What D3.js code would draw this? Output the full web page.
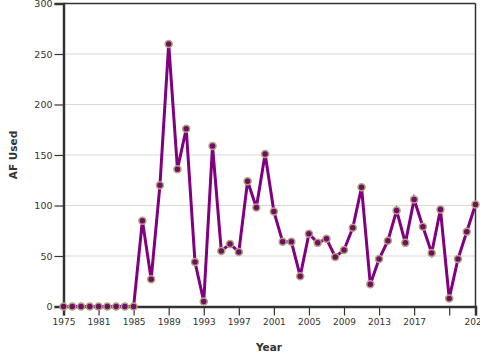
<!DOCTYPE html>
<html><head><meta charset="utf-8">
<script src="https://cdn.jsdelivr.net/npm/d3@7"></script>
<style>
html,body{margin:0;padding:0;background:#fff;}
svg{display:block;font-family:"DejaVu Sans",sans-serif;}
</style></head>
<body><svg id="chart" width="480" height="360"></svg>
<script>
const years = [1975,1977,1979,1980,1981,1982,1983,1984,1985,1986,1987,1988,1989,1990,1991,1992,1993,1994,1995,1996,1997,1998,1999,2000,2001,2002,2003,2004,2005,2006,2007,2008,2009,2010,2011,2012,2013,2014,2015,2016,2017,2018,2019,2020,2021,2022,2023,2024];
const afUsed = [0,0,0,0,0,0,0,0,0,85,27,120,260,136,176,44,5,159,55,62,54,124,98,151,94,64,64,30,72,63,67,49,56,78,118,22,47,65,95,63,106,79,53,96,8,47,74,101];
const yTicks = [0,50,100,150,200,250,300];
const xLabel = "Year";
const yLabel = "AF Used";

const svg = d3.select("#chart");
const L = 63.5, R = 475.5, T = 3.5, B = 306.5;

const x = d3.scalePoint().domain(years).range([L, R]).padding(0);
const y = d3.scaleLinear().domain([0, 300]).range([B, T]);

// gridlines
svg.append("g").selectAll("line").data(yTicks.filter(d => d > 0)).join("line")
  .attr("x1", L).attr("x2", R).attr("y1", d => y(d)).attr("y2", d => y(d))
  .attr("stroke", "#d9d9d9").attr("stroke-width", 1);

// frame top & right
svg.append("line").attr("x1", L).attr("x2", R).attr("y1", T).attr("y2", T).attr("stroke", "#333").attr("stroke-width", 1.5);
svg.append("line").attr("x1", R).attr("x2", R).attr("y1", T).attr("y2", B).attr("stroke", "#333").attr("stroke-width", 1.5);

// x axis
const n = years.length;
const xTickVals = years.filter((d, i) => i % 4 === 0 || i === n - 1);
const xAxis = d3.axisBottom(x).tickValues(xTickVals).tickSize(9).tickPadding(3)
  .tickFormat(d => {
    const i = years.indexOf(d);
    if (i !== n - 1 && (n - 1 - i) < 4) return "";
    return d;
  });
const gx = svg.append("g").attr("transform", `translate(0,${B})`).call(xAxis);
gx.select(".domain").attr("stroke", "#333").attr("stroke-width", 2.5);
gx.selectAll(".tick line").attr("stroke", "#333").attr("stroke-width", 1.2);
gx.selectAll(".tick text").attr("fill", "#333").style("font-size", "9px").style("font-family", "DejaVu Sans");

// y axis
const yAxis = d3.axisLeft(y).tickValues(yTicks).tickSize(9).tickPadding(2);
const gy = svg.append("g").attr("transform", `translate(${L},0)`).call(yAxis);
gy.select(".domain").attr("stroke", "#333").attr("stroke-width", 2.5);
gy.selectAll(".tick line").attr("stroke", "#333").attr("stroke-width", 1.2);
gy.selectAll(".tick text").attr("fill", "#333").style("font-size", "9.5px").style("font-family", "DejaVu Sans");

// axis titles
svg.append("text").attr("x", 269).attr("y", 351).attr("text-anchor", "middle")
  .style("font-size", "10.5px").style("font-weight", "bold").attr("fill", "#333").text(xLabel);
svg.append("text").attr("transform", "translate(17,155) rotate(-90)").attr("text-anchor", "middle")
  .style("font-size", "10.5px").style("font-weight", "bold").attr("fill", "#333").text(yLabel);

// line
const data = years.map((yr, i) => ({yr, v: afUsed[i]}));
svg.append("path").datum(data)
  .attr("fill", "none").attr("stroke", "#800080").attr("stroke-width", 3).attr("stroke-linejoin", "miter")
  .attr("d", d3.line().x(d => x(d.yr)).y(d => y(d.v)));

// points
svg.append("g").selectAll("circle").data(data).join("circle")
  .attr("cx", d => x(d.yr)).attr("cy", d => y(d.v)).attr("r", 3.5)
  .attr("fill", "#6e0f63").attr("stroke", "#b5a27f").attr("stroke-width", 1.5);
</script></body></html>
